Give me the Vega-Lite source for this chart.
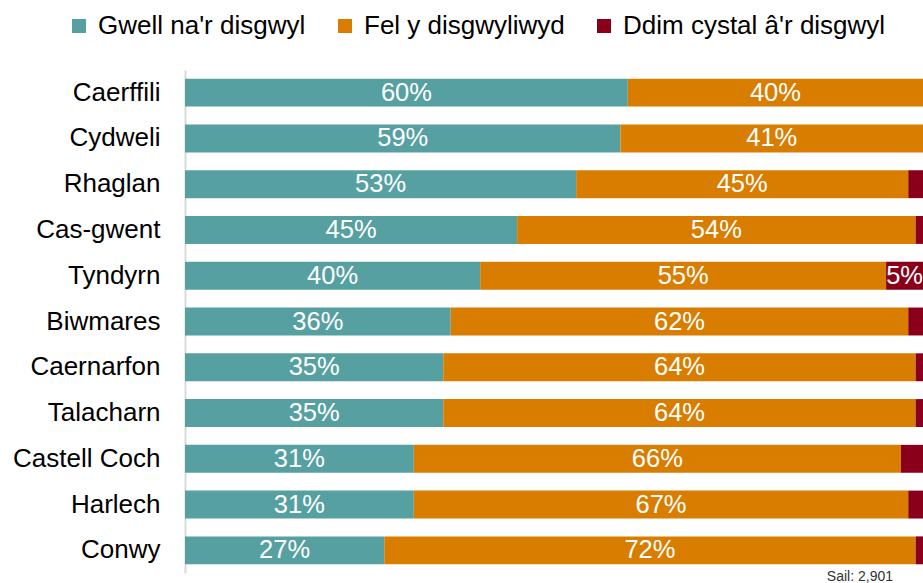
{
  "$schema": "https://vega.github.io/schema/vega-lite/v6.json",
  "width": 738,
  "height": 503,
  "autosize": {"type": "none"},
  "padding": {"left": 185, "top": 70, "right": 0, "bottom": 10},
  "background": "white",
  "config": {"font": "Liberation Sans", "view": {"stroke": null}},
  "title": {"text": "Sail: 2,901", "orient": "bottom", "anchor": "end", "fontSize": 14, "fontWeight": "normal", "color": "#333333", "offset": -3, "dx": -30},
  "data": {"values": [
    {"site": "Caerffili", "cat": "Gwell na'r disgwyl", "ord": 1, "value": 60},
    {"site": "Caerffili", "cat": "Fel y disgwyliwyd", "ord": 2, "value": 40},
    {"site": "Caerffili", "cat": "Ddim cystal â'r disgwyl", "ord": 3, "value": 0},
    {"site": "Cydweli", "cat": "Gwell na'r disgwyl", "ord": 1, "value": 59},
    {"site": "Cydweli", "cat": "Fel y disgwyliwyd", "ord": 2, "value": 41},
    {"site": "Cydweli", "cat": "Ddim cystal â'r disgwyl", "ord": 3, "value": 0},
    {"site": "Rhaglan", "cat": "Gwell na'r disgwyl", "ord": 1, "value": 53},
    {"site": "Rhaglan", "cat": "Fel y disgwyliwyd", "ord": 2, "value": 45},
    {"site": "Rhaglan", "cat": "Ddim cystal â'r disgwyl", "ord": 3, "value": 2},
    {"site": "Cas-gwent", "cat": "Gwell na'r disgwyl", "ord": 1, "value": 45},
    {"site": "Cas-gwent", "cat": "Fel y disgwyliwyd", "ord": 2, "value": 54},
    {"site": "Cas-gwent", "cat": "Ddim cystal â'r disgwyl", "ord": 3, "value": 1},
    {"site": "Tyndyrn", "cat": "Gwell na'r disgwyl", "ord": 1, "value": 40},
    {"site": "Tyndyrn", "cat": "Fel y disgwyliwyd", "ord": 2, "value": 55},
    {"site": "Tyndyrn", "cat": "Ddim cystal â'r disgwyl", "ord": 3, "value": 5},
    {"site": "Biwmares", "cat": "Gwell na'r disgwyl", "ord": 1, "value": 36},
    {"site": "Biwmares", "cat": "Fel y disgwyliwyd", "ord": 2, "value": 62},
    {"site": "Biwmares", "cat": "Ddim cystal â'r disgwyl", "ord": 3, "value": 2},
    {"site": "Caernarfon", "cat": "Gwell na'r disgwyl", "ord": 1, "value": 35},
    {"site": "Caernarfon", "cat": "Fel y disgwyliwyd", "ord": 2, "value": 64},
    {"site": "Caernarfon", "cat": "Ddim cystal â'r disgwyl", "ord": 3, "value": 1},
    {"site": "Talacharn", "cat": "Gwell na'r disgwyl", "ord": 1, "value": 35},
    {"site": "Talacharn", "cat": "Fel y disgwyliwyd", "ord": 2, "value": 64},
    {"site": "Talacharn", "cat": "Ddim cystal â'r disgwyl", "ord": 3, "value": 1},
    {"site": "Castell Coch", "cat": "Gwell na'r disgwyl", "ord": 1, "value": 31},
    {"site": "Castell Coch", "cat": "Fel y disgwyliwyd", "ord": 2, "value": 66},
    {"site": "Castell Coch", "cat": "Ddim cystal â'r disgwyl", "ord": 3, "value": 3},
    {"site": "Harlech", "cat": "Gwell na'r disgwyl", "ord": 1, "value": 31},
    {"site": "Harlech", "cat": "Fel y disgwyliwyd", "ord": 2, "value": 67},
    {"site": "Harlech", "cat": "Ddim cystal â'r disgwyl", "ord": 3, "value": 2},
    {"site": "Conwy", "cat": "Gwell na'r disgwyl", "ord": 1, "value": 27},
    {"site": "Conwy", "cat": "Fel y disgwyliwyd", "ord": 2, "value": 72},
    {"site": "Conwy", "cat": "Ddim cystal â'r disgwyl", "ord": 3, "value": 1}
  ]},
  "transform": [
    {"stack": "value", "groupby": ["site"], "sort": [{"field": "ord", "order": "ascending"}], "as": ["x0", "x1"]},
    {"calculate": "(datum.x0 + datum.x1) / 2", "as": "mid"},
    {"calculate": "datum.value + '%'", "as": "label"}
  ],
  "encoding": {
    "y": {
      "field": "site", "type": "nominal",
      "sort": ["Caerffili", "Cydweli", "Rhaglan", "Cas-gwent", "Tyndyrn", "Biwmares", "Caernarfon", "Talacharn", "Castell Coch", "Harlech", "Conwy"],
      "scale": {"paddingInner": 0.39, "paddingOuter": 0.19},
      "axis": {"title": null, "ticks": false, "labelFontSize": 26, "labelColor": "#000000", "labelPadding": 25, "domainColor": "#d9d9d9", "domainWidth": 2, "grid": false, "labelLimit": 300}
    }
  },
  "layer": [
    {
      "mark": {"type": "bar"},
      "encoding": {
        "x": {"field": "x0", "type": "quantitative", "scale": {"domain": [0, 100]}, "axis": null},
        "x2": {"field": "x1"},
        "color": {
          "field": "cat", "type": "nominal",
          "scale": {"domain": ["Gwell na'r disgwyl", "Fel y disgwyliwyd", "Ddim cystal â'r disgwyl"], "range": ["#57A0A1", "#D97D00", "#8A001A"]},
          "legend": {"title": null, "orient": "none", "legendX": -119, "legendY": -57, "direction": "horizontal", "symbolType": "square", "symbolSize": 196, "symbolStrokeWidth": 0, "labelFontSize": 26, "labelColor": "#000000", "labelOffset": 6, "columnPadding": 26, "labelLimit": 400}
        }
      }
    },
    {
      "transform": [{"filter": "datum.value >= 5"}],
      "mark": {"type": "text", "color": "white", "fontSize": 25.5, "baseline": "middle"},
      "encoding": {
        "x": {"field": "mid", "type": "quantitative"},
        "text": {"field": "label"}
      }
    }
  ]
}
